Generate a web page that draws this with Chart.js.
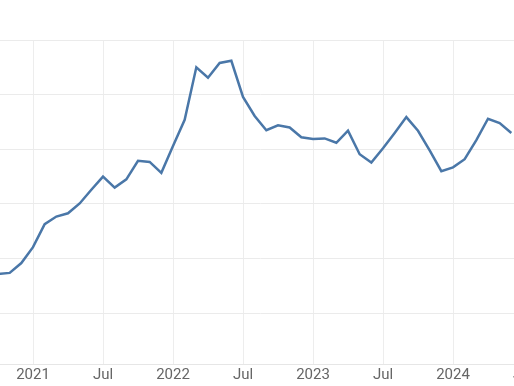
<!DOCTYPE html>
<html>
<head>
<meta charset="utf-8">
<script src="https://cdn.jsdelivr.net/npm/chart.js@4"></script>
<style>
html,body{margin:0;padding:0;background:#fff;overflow:hidden;width:514px;height:386px;}
#wrap{position:absolute;left:-50px;top:0;width:600px;height:386px;}
</style>
</head>
<body>
<div id="wrap"><canvas id="c" width="600" height="386"></canvas></div>
<script>
// Monthly categories, Oct 2020 .. Jul 2024 (last one only carries the axis label)
const months = ["Oct 2020","Nov 2020","Dec 2020",
  "Jan 2021","Feb 2021","Mar 2021","Apr 2021","May 2021","Jun 2021","Jul 2021","Aug 2021","Sep 2021","Oct 2021","Nov 2021","Dec 2021",
  "Jan 2022","Feb 2022","Mar 2022","Apr 2022","May 2022","Jun 2022","Jul 2022","Aug 2022","Sep 2022","Oct 2022","Nov 2022","Dec 2022",
  "Jan 2023","Feb 2023","Mar 2023","Apr 2023","May 2023","Jun 2023","Jul 2023","Aug 2023","Sep 2023","Oct 2023","Nov 2023","Dec 2023",
  "Jan 2024","Feb 2024","Mar 2024","Apr 2024","May 2024","Jun 2024","Jul 2024"];
// Series values (grid units)
const values = [1.72,1.74,1.92,
  2.21,2.63,2.77,2.83,3.01,3.26,3.50,3.30,3.45,3.79,3.77,3.57,
  4.06,4.54,5.50,5.31,5.58,5.62,4.96,4.61,4.35,4.44,4.40,4.22,
  4.19,4.20,4.12,4.34,3.91,3.76,4.02,4.30,4.59,4.34,3.98,3.60,
  3.67,3.82,4.17,4.56,4.48,4.30,null];
// Tick labels shown on the x axis
const tickMonths = ["Jan 2021","Jul 2021","Jan 2022","Jul 2022","Jan 2023","Jul 2023","Jan 2024","Jul 2024"];
const tickLabels = ["2021","Jul","2022","Jul","2023","Jul","2024","Jul"];
// Horizontal grid values
const yGrid = [1,2,3,4,5,6];

new Chart(document.getElementById('c'), {
  type: 'line',
  data: {
    labels: months,
    datasets: [{
      data: values,
      borderColor: '#4a77a8',
      borderWidth: 2.5,
      pointRadius: 0,
      tension: 0,
      fill: false
    }]
  },
  options: {
    responsive: false,
    animation: false,
    devicePixelRatio: 1,
    layout: { padding: { left: 48, right: 27, top: 40, bottom: 0 } },
    plugins: { legend: { display: false }, tooltip: { enabled: false } },
    scales: {
      x: {
        offset: false,
        afterBuildTicks: (scale) => {
          scale.ticks = scale.ticks.filter(t => tickMonths.includes(months[t.value]));
        },
        ticks: {
          autoSkip: false,
          maxRotation: 0,
          padding: 2,
          color: '#666',
          font: { family: 'Roboto', size: 15 },
          callback: function(v) { const i = tickMonths.indexOf(months[v]); return i >= 0 ? tickLabels[i] : ''; }
        },
        grid: {
          color: (c) => (c.tick && c.tick.value === months.length - 1) ? 'rgba(0,0,0,0)' : '#ededed',
          lineWidth: 1,
          drawTicks: false
        },
        border: { color: '#e6e6e6' }
      },
      y: {
        min: 0.073,
        max: 6,
        afterBuildTicks: (scale) => {
          scale.ticks = yGrid.map(v => ({ value: v }));
        },
        ticks: { display: false },
        grid: { color: '#ebebeb', lineWidth: 1, drawTicks: false },
        border: { display: false }
      }
    }
  }
});
</script>
</body>
</html>
